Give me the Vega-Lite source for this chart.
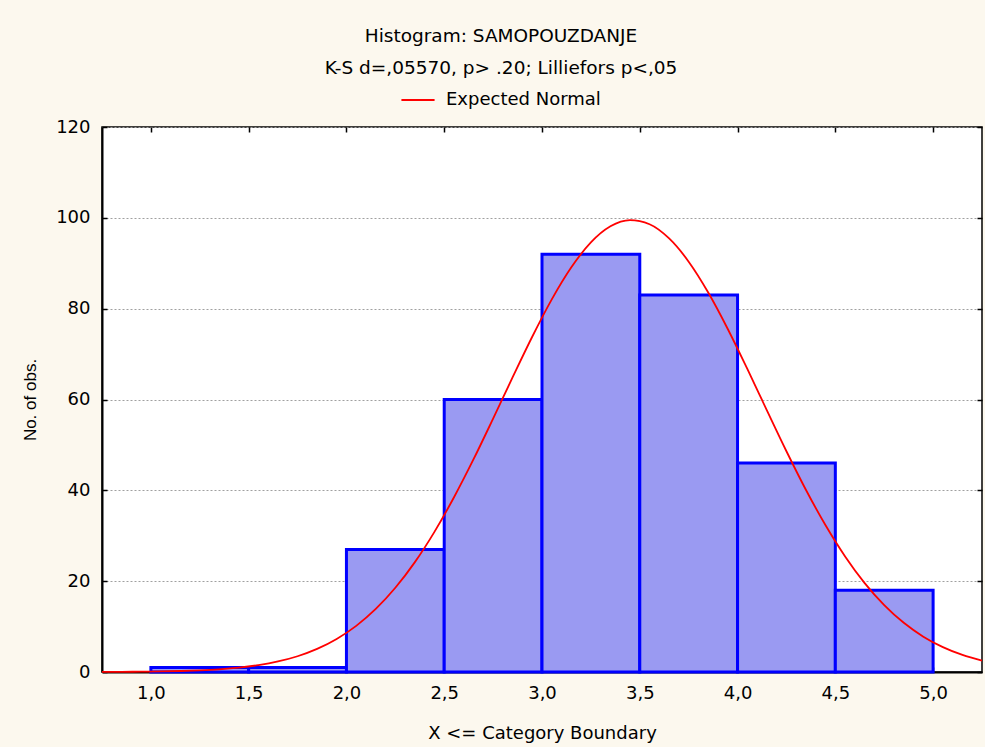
{
  "$schema": "https://vega.github.io/schema/vega-lite/v6.json",
  "width": 880,
  "height": 545,
  "autosize": {"type": "none"},
  "padding": {"left": 102, "top": 127, "right": 3, "bottom": 75},
  "background": "#fcf8ee",
  "config": {
    "view": {"fill": "#ffffff", "stroke": "#000000", "strokeWidth": 1.5},
    "font": "DejaVu Sans",
    "axis": {
      "labelFont": "DejaVu Sans", "labelFontSize": 18, "labelColor": "#000000",
      "titleFont": "DejaVu Sans", "titleFontSize": 18, "titleFontWeight": "normal", "titleColor": "#000000",
      "domainColor": "#000000", "domainWidth": 2, "tickColor": "#000000", "tickWidth": 1.5
    }
  },
  "title": {
    "text": ["Histogram: SAMOPOUZDANJE", "K-S d=,05570, p> .20; Lilliefors p<,05"],
    "fontSize": 18.5, "fontWeight": "normal", "color": "#000000", "font": "DejaVu Sans",
    "lineHeight": 32, "anchor": "middle", "dx": -41, "offset": 5
  },
  "datasets": {
    "bins": [
      {"lo": 1.0, "hi": 1.5, "n": 1},
      {"lo": 1.5, "hi": 2.0, "n": 1},
      {"lo": 2.0, "hi": 2.5, "n": 27},
      {"lo": 2.5, "hi": 3.0, "n": 60},
      {"lo": 3.0, "hi": 3.5, "n": 92},
      {"lo": 3.5, "hi": 4.0, "n": 83},
      {"lo": 4.0, "hi": 4.5, "n": 46},
      {"lo": 4.5, "hi": 5.0, "n": 18}
    ],
    "curve": [
      {"x": 0.75, "y": 0.02, "s": "Expected Normal"},
      {"x": 0.85, "y": 0.04, "s": "Expected Normal"},
      {"x": 0.95, "y": 0.07, "s": "Expected Normal"},
      {"x": 1.05, "y": 0.13, "s": "Expected Normal"},
      {"x": 1.15, "y": 0.22, "s": "Expected Normal"},
      {"x": 1.25, "y": 0.37, "s": "Expected Normal"},
      {"x": 1.35, "y": 0.6, "s": "Expected Normal"},
      {"x": 1.45, "y": 0.96, "s": "Expected Normal"},
      {"x": 1.55, "y": 1.51, "s": "Expected Normal"},
      {"x": 1.65, "y": 2.32, "s": "Expected Normal"},
      {"x": 1.75, "y": 3.47, "s": "Expected Normal"},
      {"x": 1.85, "y": 5.08, "s": "Expected Normal"},
      {"x": 1.95, "y": 7.27, "s": "Expected Normal"},
      {"x": 2.05, "y": 10.16, "s": "Expected Normal"},
      {"x": 2.15, "y": 13.88, "s": "Expected Normal"},
      {"x": 2.25, "y": 18.54, "s": "Expected Normal"},
      {"x": 2.35, "y": 24.19, "s": "Expected Normal"},
      {"x": 2.45, "y": 30.86, "s": "Expected Normal"},
      {"x": 2.55, "y": 38.47, "s": "Expected Normal"},
      {"x": 2.65, "y": 46.85, "s": "Expected Normal"},
      {"x": 2.75, "y": 55.79, "s": "Expected Normal"},
      {"x": 2.85, "y": 64.91, "s": "Expected Normal"},
      {"x": 2.95, "y": 73.82, "s": "Expected Normal"},
      {"x": 3.05, "y": 82.05, "s": "Expected Normal"},
      {"x": 3.15, "y": 89.11, "s": "Expected Normal"},
      {"x": 3.25, "y": 94.59, "s": "Expected Normal"},
      {"x": 3.35, "y": 98.13, "s": "Expected Normal"},
      {"x": 3.45, "y": 99.49, "s": "Expected Normal"},
      {"x": 3.55, "y": 98.58, "s": "Expected Normal"},
      {"x": 3.65, "y": 95.46, "s": "Expected Normal"},
      {"x": 3.75, "y": 90.35, "s": "Expected Normal"},
      {"x": 3.85, "y": 83.56, "s": "Expected Normal"},
      {"x": 3.95, "y": 75.53, "s": "Expected Normal"},
      {"x": 4.05, "y": 66.72, "s": "Expected Normal"},
      {"x": 4.15, "y": 57.61, "s": "Expected Normal"},
      {"x": 4.25, "y": 48.61, "s": "Expected Normal"},
      {"x": 4.35, "y": 40.08, "s": "Expected Normal"},
      {"x": 4.45, "y": 32.31, "s": "Expected Normal"},
      {"x": 4.55, "y": 25.45, "s": "Expected Normal"},
      {"x": 4.65, "y": 19.58, "s": "Expected Normal"},
      {"x": 4.75, "y": 14.74, "s": "Expected Normal"},
      {"x": 4.85, "y": 10.83, "s": "Expected Normal"},
      {"x": 4.95, "y": 7.78, "s": "Expected Normal"},
      {"x": 5.05, "y": 5.47, "s": "Expected Normal"},
      {"x": 5.15, "y": 3.75, "s": "Expected Normal"},
      {"x": 5.25, "y": 2.52, "s": "Expected Normal"}
    ]
  },
  "layer": [
    {
      "data": {"name": "bins"},
      "mark": {"type": "rect", "fill": "#9a9af2", "stroke": "#0000ff", "strokeWidth": 3},
      "encoding": {
        "x": {
          "field": "lo", "type": "quantitative",
          "scale": {"domain": [0.75, 5.25], "nice": false, "zero": false},
          "axis": {"orient": "top", "values": [1, 1.5, 2, 2.5, 3, 3.5, 4, 4.5, 5], "labels": false, "tickSize": -5, "domain": false, "title": null, "grid": false}
        },
        "x2": {"field": "hi"},
        "y": {
          "field": "n", "type": "quantitative",
          "scale": {"domain": [0, 120], "nice": false},
          "axis": {"orient": "right", "values": [0, 20, 40, 60, 80, 100, 120], "labels": false, "tickSize": -5, "domain": false, "title": null, "grid": false}
        }
      }
    },
    {
      "data": {"name": "curve"},
      "mark": {"type": "line", "strokeWidth": 1.8, "interpolate": "monotone"},
      "encoding": {
        "x": {
          "field": "x", "type": "quantitative",
          "scale": {"domain": [0.75, 5.25], "nice": false, "zero": false},
          "axis": {"orient": "bottom", "values": [1, 1.5, 2, 2.5, 3, 3.5, 4, 4.5, 5], "labelExpr": "replace(format(datum.value, '.1f'), '.', ',')", "tickSize": -5, "labelPadding": 17, "title": "X <= Category Boundary", "titlePadding": 22, "grid": false}
        },
        "y": {
          "field": "y", "type": "quantitative",
          "scale": {"domain": [0, 120], "nice": false},
          "axis": {"orient": "left", "values": [0, 20, 40, 60, 80, 100, 120], "tickSize": -5, "labelPadding": 17, "title": "No. of obs.", "titleFont": "Liberation Sans", "titleFontSize": 17, "titlePadding": 16, "grid": true, "gridDash": [2, 2], "gridColor": "#a0a0a0", "gridWidth": 1}
        },
        "color": {
          "field": "s", "type": "nominal",
          "scale": {"range": ["#ff0000"]},
          "legend": {"title": null, "orient": "none", "legendX": 298, "legendY": -45, "symbolType": "stroke", "symbolSize": 1100, "symbolStrokeWidth": 2, "labelFontSize": 18, "labelFont": "DejaVu Sans", "labelColor": "#000000", "labelOffset": 10}
        }
      }
    }
  ],
  "resolve": {"scale": {"x": "independent", "y": "independent"}, "axis": {"x": "independent", "y": "independent"}}
}
